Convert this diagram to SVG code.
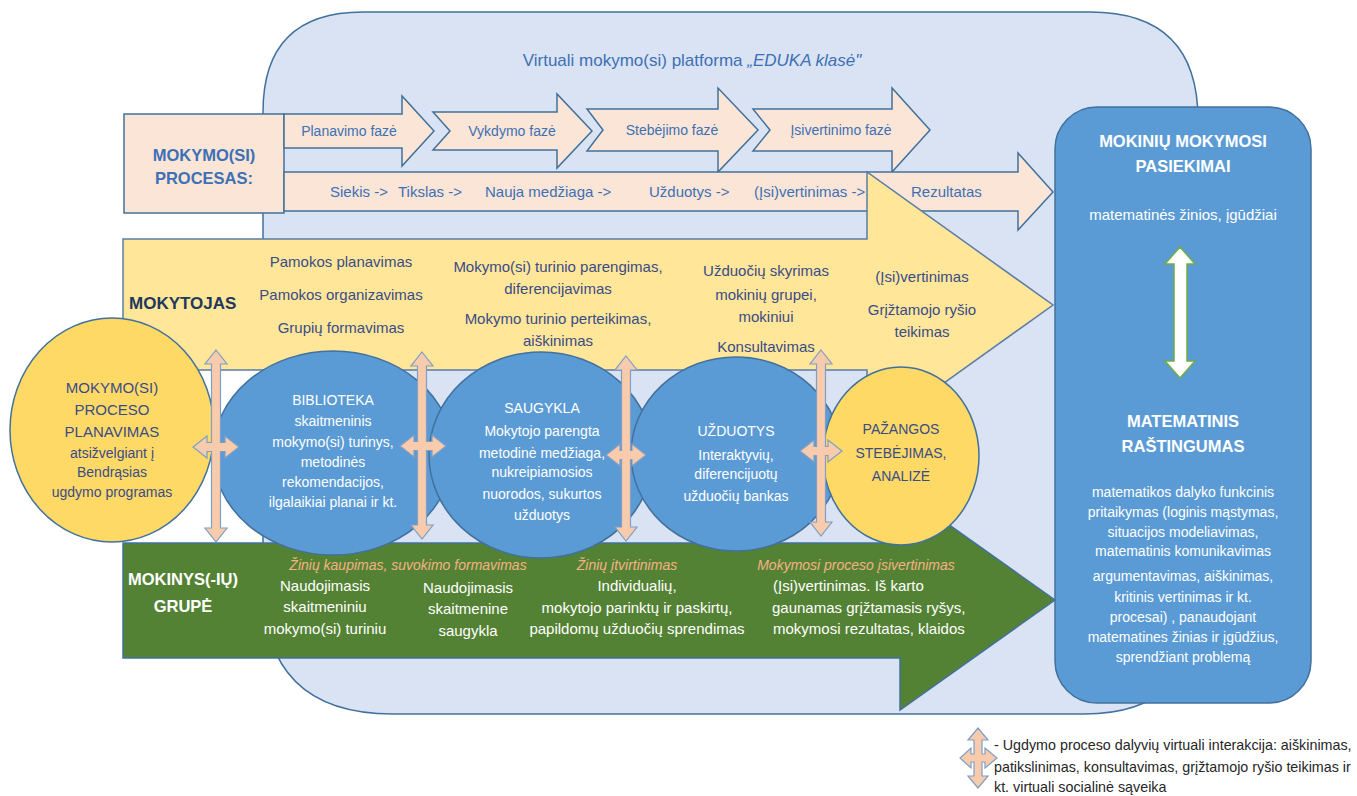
<svg xmlns="http://www.w3.org/2000/svg" width="1357" height="796" viewBox="0 0 1357 796">
<style>
text{font-family:"Liberation Sans",Arial,sans-serif}
.stk{stroke:#41719c;stroke-width:1.5}
.peach{fill:#fbe5d6}
.lb{fill:#dae3f3}
.ell{fill:#5b9bd5;stroke:#41719c;stroke-width:1.5}
.yel{fill:#ffd966;stroke:#41719c;stroke-width:1.5}
.x{fill:#f8cbad;stroke:#7f9fc6;stroke-width:1.2}
.bt{fill:#3d70b5;font-size:15px}
.ph{fill:#3d70b5;font-size:14px;text-anchor:middle}
.tt{fill:#3a4c86;font-size:15px;text-anchor:middle}
.wt{fill:#ffffff;font-size:14px;text-anchor:middle}
.gt{fill:#ffffff;font-size:15px;text-anchor:middle}
.or{fill:#f4b183;font-size:14px;font-style:italic;text-anchor:middle}
.ct{fill:#3a4c86;font-size:14px;text-anchor:middle}
.lg{fill:#262626;font-size:14.3px}
</style>

<g id="platform">
<path class="lb stk" d="M363,12 H1090 Q1198,12 1198,120 V600 Q1198,714 1084,714 H393 Q263,714 263,584 V112 Q263,12 363,12 Z"/>
<text x="692" y="66" text-anchor="middle" style="fill:#3d70b5;font-size:17px">Virtuali mokymo(si) platforma <tspan font-style="italic">„EDUKA klasė"</tspan></text>
</g>

<g id="process-box">
<rect class="peach stk" x="124" y="114" width="160" height="99"/>
<text x="204" y="161" text-anchor="middle" style="fill:#3d70b5;font-size:16.5px;font-weight:bold">MOKYMO(SI)</text>
<text x="204" y="184" text-anchor="middle" style="fill:#3d70b5;font-size:16.5px;font-weight:bold">PROCESAS:</text>
</g>

<g id="phase-planavimo">
<polygon class="peach stk" points="284,114 402,114 402,96 434,131 402,166 402,148 284,148"/>
<text class="ph" x="349" y="136">Planavimo fazė</text>
</g>
<g id="phase-vykdymo">
<polygon class="peach stk" points="433,112 557,112 557,94 592,131 557,168 557,150 433,150 450,131"/>
<text class="ph" x="512" y="136">Vykdymo fazė</text>
</g>
<g id="phase-stebejimo">
<polygon class="peach stk" points="587,109 718,109 718,88 758,130 718,172 718,151 587,151 603,130"/>
<text class="ph" x="672" y="135">Stebėjimo fazė</text>
</g>
<g id="phase-isivertinimo">
<polygon class="peach stk" points="753,109 892,109 892,88 930,130 892,172 892,151 753,151 770,130"/>
<text class="ph" x="841" y="135">Įsivertinimo fazė</text>
</g>

<g id="process-steps">
<polygon class="peach stk" points="284,172 1018,172 1018,153 1053,192 1018,230 1018,211 284,211"/>
<text class="bt" x="330" y="197">Siekis -&gt;</text>
<text class="bt" x="398" y="197">Tikslas -&gt;</text>
<text class="bt" x="485" y="197">Nauja medžiaga -&gt;</text>
<text class="bt" x="649" y="197">Užduotys -&gt;</text>
<text class="bt" x="754" y="197">(Įsi)vertinimas -&gt;</text>
<text class="bt" x="911" y="197">Rezultatas</text>
</g>

<g id="mokytojas">
<polygon fill="#ffe699" stroke="#5a7ca8" stroke-width="1.5" points="123,239 867,239 867,172 1053,305 867,438 867,370 123,370"/>
<text x="129" y="309" style="fill:#22375e;font-size:17px;font-weight:bold">MOKYTOJAS</text>
<text class="tt" x="341" y="267">Pamokos planavimas</text>
<text class="tt" x="341" y="300">Pamokos organizavimas</text>
<text class="tt" x="341" y="333">Grupių formavimas</text>
<text class="tt" x="558" y="272">Mokymo(si) turinio parengimas,</text>
<text class="tt" x="558" y="294">diferencijavimas</text>
<text class="tt" x="558" y="324">Mokymo turinio perteikimas,</text>
<text class="tt" x="558" y="346">aiškinimas</text>
<text class="tt" x="766" y="276">Užduočių skyrimas</text>
<text class="tt" x="766" y="300">mokinių grupei,</text>
<text class="tt" x="766" y="322">mokiniui</text>
<text class="tt" x="766" y="352">Konsultavimas</text>
<text class="tt" x="922" y="282">(Įsi)vertinimas</text>
<text class="tt" x="922" y="315">Grįžtamojo ryšio</text>
<text class="tt" x="922" y="337">teikimas</text>
</g>

<g id="mokiniai">
<polygon fill="#548235" stroke="#41719c" stroke-width="1.5" points="123,543 900,543 900,490 1055,600 900,710 900,658 123,658"/>
</g>

<g id="biblioteka">
<ellipse class="ell" cx="333" cy="453" rx="120" ry="102"/>
<text class="wt" x="333" y="405">BIBLIOTEKA</text>
<text class="wt" x="333" y="426">skaitmeninis</text>
<text class="wt" x="333" y="447">mokymo(si) turinys,</text>
<text class="wt" x="333" y="467">metodinės</text>
<text class="wt" x="333" y="487">rekomendacijos,</text>
<text class="wt" x="333" y="507">ilgalaikiai planai ir kt.</text>
</g>

<g id="saugykla">
<ellipse class="ell" cx="541" cy="455" rx="112" ry="103"/>
<text class="wt" x="542" y="413">SAUGYKLA</text>
<text class="wt" x="542" y="436">Mokytojo parengta</text>
<text class="wt" x="542" y="458">metodinė medžiaga,</text>
<text class="wt" x="542" y="477">nukreipiamosios</text>
<text class="wt" x="542" y="499">nuorodos, sukurtos</text>
<text class="wt" x="542" y="520">užduotys</text>
</g>

<g id="uzduotys">
<ellipse class="ell" cx="736" cy="454" rx="105" ry="97"/>
<text class="wt" x="736" y="436">UŽDUOTYS</text>
<text class="wt" x="736" y="460">Interaktyvių,</text>
<text class="wt" x="736" y="479">diferencijuotų</text>
<text class="wt" x="736" y="501">užduočių bankas</text>
</g>

<g id="planavimas">
<ellipse class="yel" cx="112" cy="430" rx="102" ry="112"/>
<text class="ct" x="112" y="393" style="font-size:15px">MOKYMO(SI)</text>
<text class="ct" x="112" y="415" style="font-size:15px">PROCESO</text>
<text class="ct" x="112" y="437" style="font-size:15px">PLANAVIMAS</text>
<text class="ct" x="112" y="458">atsižvelgiant į</text>
<text class="ct" x="112" y="477">Bendrąsias</text>
<text class="ct" x="112" y="497">ugdymo programas</text>
</g>

<g id="pazangos">
<ellipse class="yel" cx="901" cy="456" rx="78" ry="89"/>
<text class="ct" x="901" y="434">PAŽANGOS</text>
<text class="ct" x="901" y="458">STEBĖJIMAS,</text>
<text class="ct" x="901" y="481">ANALIZĖ</text>
</g>

<g id="connectors">
<polygon class="x" points="216,350 227,364 220.5,364 220.5,442.5 225,442.5 225,436 239,447 225,458 225,451.5 220.5,451.5 220.5,528 227,528 216,542 205,528 211.5,528 211.5,451.5 207,451.5 207,458 193,447 207,436 207,442.5 211.5,442.5 211.5,364 205,364"/>
<polygon class="x" points="422,352 433,366 426.5,366 426.5,441.5 432,441.5 432,435 446,446 432,457 432,450.5 426.5,450.5 426.5,525 433,525 422,539 411,525 417.5,525 417.5,450.5 414,450.5 414,457 400,446 414,435 414,441.5 417.5,441.5 417.5,366 411,366"/>
<polygon class="x" points="626,356 637,370 630.5,370 630.5,450.5 632,450.5 632,444 646,455 632,466 632,459.5 630.5,459.5 630.5,527 637,527 626,541 615,527 621.5,527 621.5,459.5 620,459.5 620,466 606,455 620,444 620,450.5 621.5,450.5 621.5,370 615,370"/>
<polygon class="x" points="821,350 832,364 825.5,364 825.5,446.5 828,446.5 828,440 842,451 828,462 828,455.5 825.5,455.5 825.5,522 832,522 821,536 810,522 816.5,522 816.5,455.5 814,455.5 814,462 800,451 814,440 814,446.5 816.5,446.5 816.5,364 810,364"/>
</g>

<g id="mokiniai-text">
<text x="183" y="585" text-anchor="middle" style="fill:#ffffff;font-size:16.5px;font-weight:bold">MOKINYS(-IŲ)</text>
<text x="183" y="612" text-anchor="middle" style="fill:#ffffff;font-size:16.5px;font-weight:bold">GRUPĖ</text>
<text class="or" x="408" y="570">Žinių kaupimas, suvokimo formavimas</text>
<text class="gt" x="325" y="591">Naudojimasis</text>
<text class="gt" x="325" y="612">skaitmeniniu</text>
<text class="gt" x="325" y="634">mokymo(si) turiniu</text>
<text class="gt" x="468" y="593">Naudojimasis</text>
<text class="gt" x="468" y="614">skaitmenine</text>
<text class="gt" x="468" y="636">saugykla</text>
<text class="or" x="627" y="570">Žinių įtvirtinimas</text>
<text class="gt" x="637" y="591">Individualių,</text>
<text class="gt" x="637" y="613">mokytojo parinktų ir paskirtų,</text>
<text class="gt" x="637" y="634">papildomų užduočių sprendimas</text>
<text class="or" x="856" y="570">Mokymosi proceso įsivertinimas</text>
<text x="773" y="591" style="fill:#ffffff;font-size:15px">(Įsi)vertinimas. Iš karto</text>
<text x="772" y="613" style="fill:#ffffff;font-size:15px">gaunamas grįžtamasis ryšys,</text>
<text x="773" y="634" style="fill:#ffffff;font-size:15px">mokymosi rezultatas, klaidos</text>
</g>

<g id="pasiekimai">
<rect x="1055" y="107" width="256" height="596" rx="42" ry="42" class="ell"/>
<text x="1183" y="147" text-anchor="middle" style="fill:#ffffff;font-size:16.5px;font-weight:bold">MOKINIŲ MOKYMOSI</text>
<text x="1183" y="172" text-anchor="middle" style="fill:#ffffff;font-size:16.5px;font-weight:bold">PASIEKIMAI</text>
<text class="gt" x="1183" y="220">matematinės žinios, įgūdžiai</text>
<polygon fill="#ffffff" stroke="#70ad47" stroke-width="1.5" points="1180,247 1195,264 1187,264 1187,361 1195,361 1180,378 1165,361 1174,361 1174,264 1165,264"/>
<text x="1183" y="427" text-anchor="middle" style="fill:#ffffff;font-size:16.5px;font-weight:bold">MATEMATINIS</text>
<text x="1183" y="452" text-anchor="middle" style="fill:#ffffff;font-size:16.5px;font-weight:bold">RAŠTINGUMAS</text>
<text class="wt" x="1183" y="497">matematikos dalyko funkcinis</text>
<text class="wt" x="1183" y="517">pritaikymas (loginis mąstymas,</text>
<text class="wt" x="1183" y="537">situacijos modeliavimas,</text>
<text class="wt" x="1183" y="556">matematinis komunikavimas</text>
<text class="wt" x="1183" y="581">argumentavimas, aiškinimas,</text>
<text class="wt" x="1183" y="602">kritinis vertinimas ir kt.</text>
<text class="wt" x="1183" y="622">procesai) , panaudojant</text>
<text class="wt" x="1183" y="642">matematines žinias ir įgūdžius,</text>
<text class="wt" x="1183" y="662">sprendžiant problemą</text>
</g>

<g id="legend">
<polygon class="x" points="978,728 988,740 982,740 982,754 985,754 985,748 997,758 985,768 985,762 982,762 982,776 988,776 978,788 968,776 974,776 974,762 971,762 971,768 960,758 971,748 971,754 974,754 974,740 968,740"/>
<text class="lg" x="994" y="750">- Ugdymo proceso dalyvių virtuali interakcija: aiškinimas,</text>
<text class="lg" x="994" y="772">patikslinimas, konsultavimas, grįžtamojo ryšio teikimas ir</text>
<text class="lg" x="994" y="792">kt. virtuali socialinė sąveika</text>
</g>
</svg>
